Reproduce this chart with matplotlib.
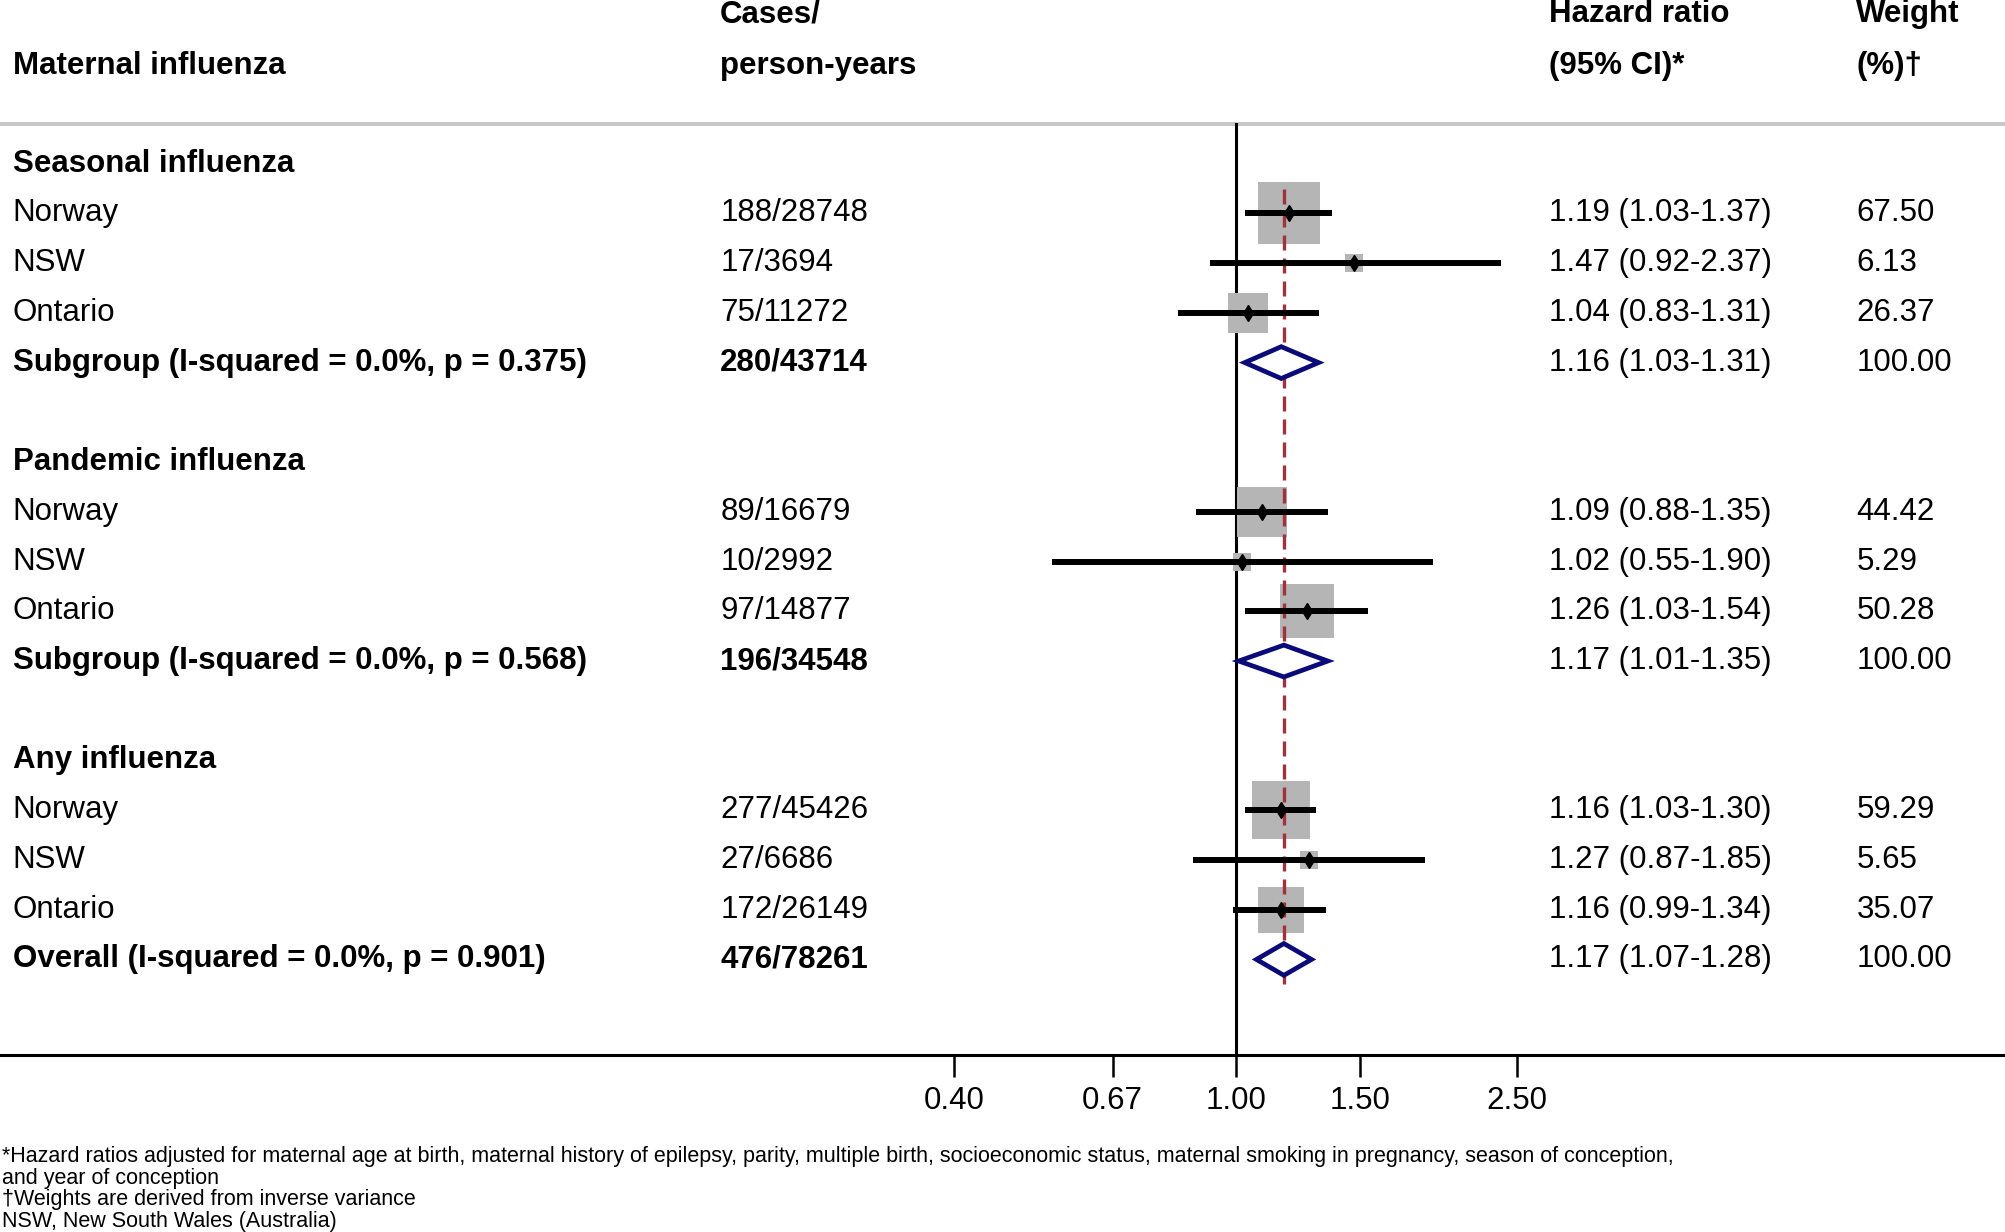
import matplotlib.pyplot as plt

plt.rcParams['font.family'] = ['Liberation Sans', 'DejaVu Sans']

# Daten aus der Abbildung
groups = ['Seasonal influenza', 'Pandemic influenza', 'Any influenza']
studies = ['Norway', 'NSW', 'Ontario']

cases = [['188/28748', '17/3694', '75/11272'],
         ['89/16679', '10/2992', '97/14877'],
         ['277/45426', '27/6686', '172/26149']]
hr = [[1.19, 1.47, 1.04], [1.09, 1.02, 1.26], [1.16, 1.27, 1.16]]
ci_lo = [[1.03, 0.92, 0.83], [0.88, 0.55, 1.03], [1.03, 0.87, 0.99]]
ci_hi = [[1.37, 2.37, 1.31], [1.35, 1.90, 1.54], [1.30, 1.85, 1.34]]
weights = [[67.50, 6.13, 26.37], [44.42, 5.29, 50.28], [59.29, 5.65, 35.07]]

pooled_labels = ['Subgroup (I-squared = 0.0%, p = 0.375)',
                 'Subgroup (I-squared = 0.0%, p = 0.568)',
                 'Overall (I-squared = 0.0%, p = 0.901)']
pooled_cases = ['280/43714', '196/34548', '476/78261']
pooled_hr = [1.16, 1.17, 1.17]
pooled_lo = [1.03, 1.01, 1.07]
pooled_hi = [1.31, 1.35, 1.28]

xticks = [0.40, 0.67, 1.00, 1.50, 2.50]

footnotes = [
    '*Hazard ratios adjusted for maternal age at birth, maternal history of epilepsy, parity, multiple birth, '
    'socioeconomic status, maternal smoking in pregnancy, season of conception,',
    'and year of conception',
    '\u2020Weights are derived from inverse variance',
    'NSW, New South Wales (Australia)',
]

FS = 22.5
COL_LABEL, COL_CASES, COL_HR, COL_W = 0.0064, 0.359, 0.7723, 0.9254
HEAD_LINE = -0.80

fig = plt.figure(figsize=(20.06, 12.32), dpi=100)
ax = fig.add_axes([0, 0, 1, 1])
ax.set_xscale('log')
ax.set_xlim(0.0179, 12.28)
ax.set_ylim(21.48, -3.29)
tr = ax.get_yaxis_transform()

# Kopfzeile
ax.text(COL_LABEL, -1.955, 'Maternal influenza', transform=tr, fontsize=FS, fontweight='bold', va='center')
ax.text(COL_CASES, -3.0, 'Cases/', transform=tr, fontsize=FS, fontweight='bold', va='center')
ax.text(COL_CASES, -1.955, 'person-years', transform=tr, fontsize=FS, fontweight='bold', va='center')
ax.text(COL_HR, -3.0, 'Hazard ratio', transform=tr, fontsize=FS, fontweight='bold', va='center')
ax.text(COL_HR, -1.955, '(95% CI)*', transform=tr, fontsize=FS, fontweight='bold', va='center')
ax.text(COL_W, -3.0, 'Weight', transform=tr, fontsize=FS, fontweight='bold', va='center')
ax.text(COL_W, -1.955, '(%)\u2020', transform=tr, fontsize=FS, fontweight='bold', va='center')
ax.axhline(HEAD_LINE, color='#c6c6c6', lw=2.8, zorder=1)

row = 0
for g in range(len(groups)):
    ax.text(COL_LABEL, row, groups[g], transform=tr, fontsize=FS, fontweight='bold', va='center')
    for s in range(len(studies)):
        r = row + 1 + s
        ax.scatter([hr[g][s]], [r], s=30.2 * weights[g][s], marker='s', color='#b5b5b5',
                   linewidths=0, zorder=2)
        ax.plot([ci_lo[g][s], ci_hi[g][s]], [r, r], color='black', lw=4.3,
                solid_capstyle='butt', zorder=4)
        ax.plot([hr[g][s]], [r], marker='d', color='black', markersize=8.5, zorder=5)
        ax.text(COL_LABEL, r, studies[s], transform=tr, fontsize=FS, va='center')
        ax.text(COL_CASES, r, cases[g][s], transform=tr, fontsize=FS, va='center')
        ax.text(COL_HR, r, f'{hr[g][s]:.2f} ({ci_lo[g][s]:.2f}-{ci_hi[g][s]:.2f})',
                transform=tr, fontsize=FS, va='center')
        ax.text(COL_W, r, f'{weights[g][s]:.2f}', transform=tr, fontsize=FS, va='center')
    r = row + 4
    h = 0.32
    ax.fill([pooled_lo[g], pooled_hr[g], pooled_hi[g], pooled_hr[g]], [r, r - h, r, r + h],
            facecolor='white', edgecolor='#0a0a78', lw=3.4, zorder=4)
    ax.text(COL_LABEL, r, pooled_labels[g], transform=tr, fontsize=FS, fontweight='bold', va='center')
    ax.text(COL_CASES, r, pooled_cases[g], transform=tr, fontsize=FS, fontweight='bold', va='center')
    ax.text(COL_HR, r, f'{pooled_hr[g]:.2f} ({pooled_lo[g]:.2f}-{pooled_hi[g]:.2f})',
            transform=tr, fontsize=FS, va='center')
    ax.text(COL_W, r, '100.00', transform=tr, fontsize=FS, va='center')
    row += 6
last_row = row - 2

# Linie des Gesamtschätzers und Nulllinie
ax.plot([pooled_hr[-1], pooled_hr[-1]], [0.5, last_row + 0.5], color='#a0323c', lw=2.4,
        dashes=(4.5, 2.4), zorder=3)
axis_row = last_row + 1.93
ax.plot([1, 1], [HEAD_LINE, axis_row], color='black', lw=2.2, zorder=1)

# x-Achse
for side in ['top', 'left', 'right']:
    ax.spines[side].set_visible(False)
ax.spines['bottom'].set_position(('data', axis_row))
ax.spines['bottom'].set_linewidth(2.2)
ax.set_xticks(xticks)
ax.set_xticklabels([f'{t:.2f}' for t in xticks])
ax.minorticks_off()
ax.tick_params(axis='x', direction='out', length=16, width=1.8, pad=6, labelsize=FS)
ax.set_yticks([])

for i, line in enumerate(footnotes):
    ax.text(0.001, 19.96 + i * 0.437, line, transform=tr, fontsize=15.5, va='center')

plt.savefig('out.png', dpi=100)
